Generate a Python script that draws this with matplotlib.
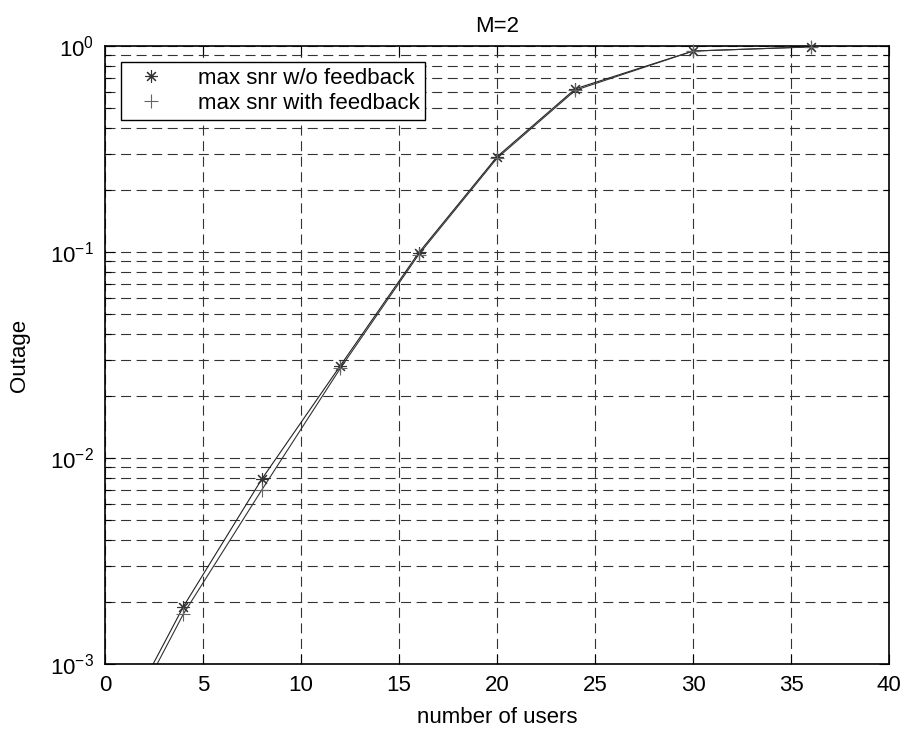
import matplotlib
matplotlib.use("Agg")
import matplotlib.pyplot as plt
import numpy as np
from matplotlib.ticker import LogLocator

plt.rcParams['font.family'] = ['Liberation Sans', 'DejaVu Sans']

users = [0, 4, 8, 12, 16, 20, 24, 30, 36]
outage_wo_fb = [3.6e-4, 1.9e-3, 7.9e-3, 0.028, 0.099, 0.29, 0.62, 0.945, 0.99]
outage_with_fb = [3.3e-4, 1.75e-3, 7.0e-3, 0.0272, 0.097, 0.285, 0.61, 0.945, 0.99]

xticks = [0, 5, 10, 15, 20, 25, 30, 35, 40]

fig = plt.figure(figsize=(9.06, 7.32), dpi=100)
ax = fig.add_axes([105/906, 1 - 664/732, (889-105)/906, (664-46)/732])

ymin, ymax = 1e-3, 1

series = [
    (outage_wo_fb, '#222222', (8, 2, 0), 9, '#333333', 'max snr w/o feedback'),
    (outage_with_fb, '#333333', '+', 10, '#666666', 'max snr with feedback'),
]
for vals, lc, mk, ms, mc, lab in series:
    ax.semilogy(users, vals, color=lc, lw=0.8)
    x = np.array(users)
    v = np.array(vals)
    m = (v >= ymin) & (v <= ymax)
    ax.semilogy(x[m], v[m], linestyle='None', marker=mk, ms=ms, mew=0.8,
                mec=mc, mfc='none', clip_on=False, label=lab, zorder=3)

ax.set_xlim(0, 40)
ax.set_ylim(ymin, ymax)
ax.set_xticks(xticks)
ax.yaxis.set_major_locator(LogLocator(base=10, numticks=10))
ax.yaxis.set_minor_locator(LogLocator(base=10, subs=np.arange(2, 10), numticks=20))

gs = dict(color='#333333', lw=0.8, linestyle=(0, (9, 5)))
ax.grid(True, which='major', axis='both', **gs)
ax.grid(True, which='minor', axis='y', **gs)

ax.tick_params(which='both', direction='in', top=True, right=True, labelsize=16)
ax.tick_params(which='major', length=7, width=0.8, pad=8)
ax.tick_params(which='minor', length=4, width=0.8)
ax.yaxis.set_minor_formatter(plt.NullFormatter())
for s in ax.spines.values():
    s.set_linewidth(1.2)

ax.set_xlabel('number of users', fontsize=16, labelpad=8)
ax.set_ylabel('Outage', fontsize=16, labelpad=14)
ax.set_title('M=2', fontsize=16, pad=10)

leg = ax.legend(loc='upper left', bbox_to_anchor=(16/784, 1 - 16/618), fontsize=16,
                frameon=True, fancybox=False, edgecolor='black', framealpha=1,
                handlelength=2.2, borderpad=0.25, labelspacing=0.2, borderaxespad=0,
                handletextpad=1.0)
leg.get_frame().set_linewidth(1.0)
leg.set_zorder(5)

fig.savefig('out.png', dpi=100)
